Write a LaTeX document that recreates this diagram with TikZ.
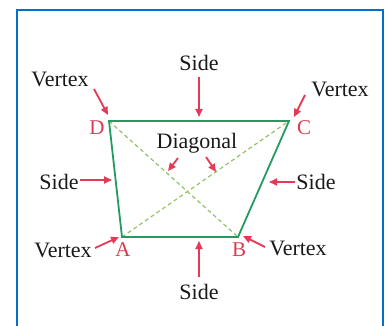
\documentclass[tikz,border=0pt]{standalone}
\usepackage{fontspec}
\setmainfont{Liberation Serif}
\usetikzlibrary{arrows.meta}
\definecolor{frameblue}{RGB}{0,114,206}
\definecolor{edgegreen}{RGB}{35,155,95}
\definecolor{diaggreen}{RGB}{145,195,105}
\definecolor{arrred}{RGB}{228,58,88}
\definecolor{lblred}{RGB}{215,60,80}
\begin{document}
\begin{tikzpicture}[x=1pt,y=-1pt,
  lbl/.style={font=\fontsize{22}{22}\selectfont, text=black!90, inner sep=0pt},
  vlbl/.style={font=\fontsize{21}{21}\selectfont, text=lblred, inner sep=0pt},
  arr/.style={draw=arrred, line width=1.8pt, -{Triangle[length=8pt,width=7pt]}},
  edge/.style={draw=edgegreen, line width=1.8pt, line join=miter},
  diag/.style={draw=diaggreen, line width=1.2pt, dash pattern=on 4pt off 3pt}]
\useasboundingbox (0,0) rectangle (385,326);
\draw[frameblue, line width=2pt] (17,330) -- (17,10) -- (383,10) -- (383,330);
% vertices
\coordinate (D) at (109,121);
\coordinate (C) at (289,121);
\coordinate (A) at (122,237);
\coordinate (B) at (238,237);
\draw[diag] (D) -- (B);
\draw[diag] (A) -- (C);
\draw[edge] (A) -- (B) -- (C) -- (D) -- cycle;
% vertex letters
\node[vlbl] (lD) at (97,128) {D};
\node[vlbl] (lC) at (304,128) {C};
\node[vlbl] (lA) at (123,250) {A};
\node[vlbl] (lB) at (239,250) {B};
% labels
\node[lbl] (sT) at (199,63) {Side};
\node[lbl] (sB) at (199,292) {Side};
\node[lbl] (sL) at (59,182) {Side};
\node[lbl] (sR) at (316,182) {Side};
\node[lbl] (vTL) at (60,79) {Vertex};
\node[lbl] (vTR) at (340,89) {Vertex};
\node[lbl] (vBL) at (63,250) {Vertex};
\node[lbl] (vBR) at (298,248) {Vertex};
\node[lbl] (dg) at (197,143) {Diagonal};
% arrow endpoints
\coordinate (tT) at (199,117);
\coordinate (tB) at (199,241);
\coordinate (tL) at (112,180);
\coordinate (tR) at (269,182);
\coordinate (tD) at (108,115);
\coordinate (tC) at (294,117);
\coordinate (tA) at (119,237);
\coordinate (tBv) at (243,236);
\coordinate (tdl) at (168,171);
\coordinate (tdr) at (216,172);
\draw[arr] (199,77) -- (tT);
\draw[arr] (199,277) -- (tB);
\draw[arr] (80,180) -- (tL);
\draw[arr] (295,182) -- (tR);
\draw[arr] (94,89) -- (tD);
\draw[arr] (305,95) -- (tC);
\draw[arr] (95,248) -- (tA);
\draw[arr] (265,247) -- (tBv);
\draw[arr] (178,158) -- (tdl);
\draw[arr] (206,157) -- (tdr);
\end{tikzpicture}
\end{document}
